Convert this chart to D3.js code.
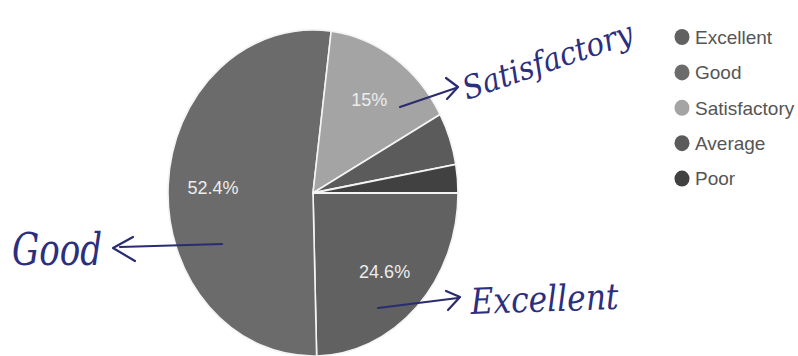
<!DOCTYPE html>
<html>
<head>
<meta charset="utf-8">
<script src="https://d3js.org/d3.v7.min.js"></script>
<style>
body { margin: 0; background: #fff; }
svg { display: block; }
text { font-family: 'Liberation Sans', Arial, sans-serif; }
.hand { font-family: 'DejaVu Serif', serif; font-style: italic; fill: #2c2f7e; }
</style>
</head>
<body>
<svg></svg>
<script>

var width = 798;
var height = 356;

// data
var categories = ["Excellent", "Good", "Satisfactory", "Average", "Poor"];
var values = [24.6, 52.4, 15, 5.2, 2.8];
var colors = ["#616161", "#6b6b6b", "#a4a4a4", "#5b5b5b", "#414141"];

// handwritten notes on the photo
var notes = [
	{ text: "Good", x: 12, y: 265, size: 44, len: 90, rot: 0 },
	{ text: "Satisfactory", x: 467, y: 100, size: 32, len: 178, rot: -19 },
	{ text: "Excellent", x: 471, y: 314, size: 36, len: 148, rot: -2 }
];
var arrows = [
	{ line: [[222, 244], [120, 247]], head: [[133, 237], [113, 248], [135, 261]] },
	{ line: [[400, 107], [456, 88]], head: [[446, 78], [458, 87], [447, 99]] },
	{ line: [[378, 308], [458, 298]], head: [[446, 291], [460, 297], [448, 310]] }
];

var cx = 313, cy = 193;
var radius = 145;
var stretch = 1.125; // photo is stretched vertically

var svg = d3.select("svg").attr("width", width).attr("height", height);

var pie = d3.pie().sort(null)
	.startAngle(Math.PI / 2)
	.endAngle(Math.PI / 2 + 2 * Math.PI);
var arcs = pie(values);

var arc = d3.arc().innerRadius(0).outerRadius(radius);
var labelArc = d3.arc().innerRadius(radius * 0.69).outerRadius(radius * 0.69);

var g = svg.append("g")
	.attr("transform", "translate(" + cx + "," + cy + ") scale(1," + stretch + ")");

g.selectAll("path").data(arcs).enter().append("path")
	.attr("d", arc)
	.style("fill", function (d, i) { return colors[i]; })
	.style("stroke", "#f4f4f4")
	.style("stroke-width", 1.6);

// percent labels (small slices get none)
svg.selectAll("text.pct").data(arcs.filter(function (d) { return d.data > 10; }))
	.enter().append("text")
	.attr("class", "pct")
	.attr("x", function (d) { return cx + labelArc.centroid(d)[0]; })
	.attr("y", function (d) { return cy + labelArc.centroid(d)[1] * stretch; })
	.attr("dy", "0.35em")
	.attr("text-anchor", "middle")
	.style("font-size", "18px")
	.style("fill", "#ececec")
	.text(function (d) { return d.data + "%"; });

// legend
var legend = svg.selectAll("g.leg").data(categories).enter().append("g")
	.attr("class", "leg")
	.attr("transform", function (d, i) { return "translate(682," + (37 + i * 35.4) + ")"; });

legend.append("ellipse")
	.attr("rx", 7.5).attr("ry", 8)
	.style("fill", function (d, i) { return colors[i]; });

legend.append("text")
	.attr("x", 13)
	.attr("dy", "0.36em")
	.style("font-size", "19px")
	.style("fill", "#555")
	.text(function (d) { return d; });

// handwriting
svg.selectAll("text.hand").data(notes).enter().append("text")
	.attr("class", "hand")
	.attr("transform", function (d) { return "translate(" + d.x + "," + d.y + ") rotate(" + d.rot + ")"; })
	.attr("textLength", function (d) { return d.len; })
	.attr("lengthAdjust", "spacingAndGlyphs")
	.style("font-size", function (d) { return d.size + "px"; })
	.text(function (d) { return d.text; });

var line = d3.line();
arrows.forEach(function (a) {
	svg.append("path").attr("d", line(a.line))
		.style("fill", "none").style("stroke", "#2a2c70").style("stroke-width", 2.2)
		.style("stroke-linecap", "round");
	svg.append("path").attr("d", line(a.head))
		.style("fill", "none").style("stroke", "#2a2c70").style("stroke-width", 2.2)
		.style("stroke-linecap", "round").style("stroke-linejoin", "round");
});

</script>
</body>
</html>
